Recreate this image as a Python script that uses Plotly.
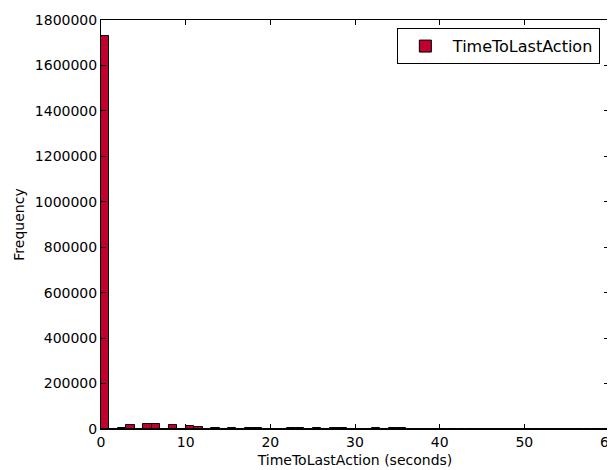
import plotly.graph_objects as go

bin_left = list(range(0, 60))
counts = [1730000, 2000, 6000, 16000, 1000, 24000, 20000, 1000, 17000, 1000,
          12000, 8000, 1000, 5000, 1000, 5000, 500, 5000, 4000, 500,
          2000, 300, 3000, 3000, 300, 3000, 300, 3000, 3000, 200,
          200, 200, 2500, 200, 2500, 2500, 100, 100, 100, 100,
          2000, 100, 100, 100, 100, 2000, 50, 50, 50, 50,
          50, 50, 50, 50, 50, 50, 50, 50, 50, 50]
x_ticks = [0, 10, 20, 30, 40, 50, 60]
y_ticks = [0, 200000, 400000, 600000, 800000, 1000000, 1200000, 1400000, 1600000, 1800000]

fig = go.Figure()
fig.add_trace(go.Bar(
    x=[b + 0.5 for b in bin_left], y=counts, width=1.0,
    name="TimeToLastAction",
    marker=dict(color="#C2002F", line=dict(color="black", width=1)),
    showlegend=True,
))

axis_common = dict(showline=True, linecolor="black", linewidth=1, mirror="allticks",
                   ticks="inside", ticklen=5, tickcolor="black", showgrid=False,
                   zeroline=False, ticklabeloverflow="allow",
                   tickfont=dict(family="DejaVu Sans", size=14, color="black"))

fig.update_layout(
    width=607, height=462,
    margin=dict(l=93, r=6, t=12, b=41, autoexpand=False),
    plot_bgcolor="white", paper_bgcolor="white",
    font=dict(family="DejaVu Sans", size=14, color="black"),
    bargap=0,
    xaxis=dict(range=[0, 60], tickvals=x_ticks, ticktext=[str(v) for v in x_ticks],
               title=dict(text="TimeToLastAction (seconds)", standoff=6,
                          font=dict(family="DejaVu Sans", size=14)), **axis_common),
    yaxis=dict(range=[0, 1800000], tickvals=y_ticks, ticktext=[str(v) for v in y_ticks],
               title=dict(text="Frequency", standoff=6,
                          font=dict(family="DejaVu Sans", size=14)), **axis_common),
    legend=dict(x=0.982, y=0.98, xanchor="right", yanchor="top",
                bgcolor="white", bordercolor="black", borderwidth=1, itemwidth=45,
                font=dict(family="DejaVu Sans", size=16, color="black")),
)

fig.write_html("out.html")
